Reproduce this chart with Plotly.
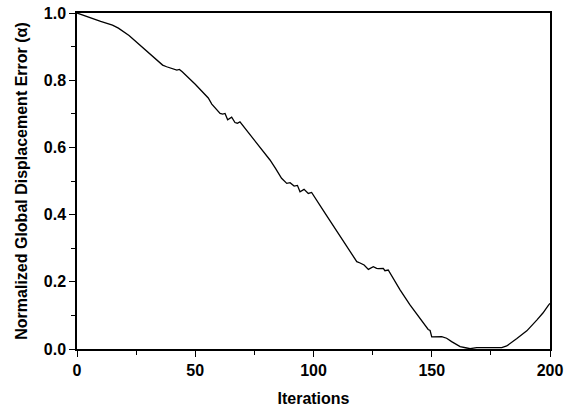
import plotly.graph_objects as go

iterations = [0, 5, 10, 15, 17.5, 22, 25.2, 29.5, 33, 36.2, 37.9, 40, 42.2, 43.3, 44.5,
              50, 55.5, 57, 60.5, 61.6, 62.6, 63.7, 65.4, 66.8, 67.8, 68.9,
              75, 81.6, 84, 86.5, 88.7, 90.1, 91.8, 93.2, 94.3, 96, 97.8, 99.2,
              105, 110, 116.8, 118.3, 119.7, 121.4, 123.2, 125.3, 126.7, 127.4, 129.5, 130.2, 131.6,
              136.6, 140.8, 145, 148.5, 149.3, 150, 154.2, 155.6, 156.3, 158.4, 162, 164.8, 166.2,
              169, 175, 179.6, 181.7, 183.1, 186, 188.7, 190.2, 194.4, 197, 199.3, 200]
error = [1.0, 0.987, 0.975, 0.964, 0.955, 0.933, 0.913, 0.884, 0.862, 0.845, 0.840, 0.836, 0.830, 0.832, 0.825,
         0.788, 0.747, 0.729, 0.701, 0.699, 0.701, 0.682, 0.690, 0.674, 0.672, 0.676,
         0.622, 0.5625, 0.537, 0.508, 0.493, 0.495, 0.485, 0.487, 0.468, 0.475, 0.463, 0.466,
         0.403, 0.349, 0.275, 0.260, 0.256, 0.250, 0.237, 0.245, 0.240, 0.239, 0.240, 0.233, 0.235,
         0.176, 0.131, 0.093, 0.058, 0.055, 0.036, 0.037, 0.035, 0.032, 0.022, 0.007, 0.003, 0.001,
         0.004, 0.004, 0.004, 0.009, 0.017, 0.031, 0.046, 0.054, 0.086, 0.107, 0.130, 0.136]

x_ticks = [0, 50, 100, 150, 200]
y_ticks = [0.0, 0.2, 0.4, 0.6, 0.8, 1.0]
y_tick_labels = ["0.0", "0.2", "0.4", "0.6", "0.8", "1.0"]

FONT = "Liberation Sans"

fig = go.Figure()
fig.add_trace(go.Scatter(x=iterations, y=error, mode="lines",
                         line=dict(color="black", width=1.3), showlegend=False,
                         cliponaxis=False))

axis_common = dict(
    showgrid=False, zeroline=False, showline=True, linecolor="black", linewidth=1.5,
    mirror=True, ticks="outside", ticklen=6, tickwidth=1.2, tickcolor="black",
    automargin=False,
    tickfont=dict(family=FONT, size=16, color="black", weight="bold"),
)

fig.update_xaxes(
    range=[0, 200], tickvals=x_ticks, ticktext=[str(v) for v in x_ticks],
    minor=dict(tickvals=[25, 75, 125, 175], ticklen=4, tickwidth=1.2, tickcolor="black", ticks="outside"),
    title=dict(text="<b>Iterations</b>", font=dict(family=FONT, size=16, color="black"), standoff=15),
    **axis_common,
)
fig.update_yaxes(
    range=[0, 1.0], tickvals=y_ticks, ticktext=y_tick_labels,
    minor=dict(tickvals=[0.1, 0.3, 0.5, 0.7, 0.9], ticklen=4, tickwidth=1.2, tickcolor="black", ticks="outside"),
    title=dict(text="<b>Normalized Global Displacement Error (α)</b>",
               font=dict(family=FONT, size=16, color="black"), standoff=12),
    **axis_common,
)

fig.update_layout(
    width=567, height=408,
    margin=dict(l=77, r=17, t=13, b=59, autoexpand=False),
    plot_bgcolor="white", paper_bgcolor="white",
)

fig.write_html("out.html")
